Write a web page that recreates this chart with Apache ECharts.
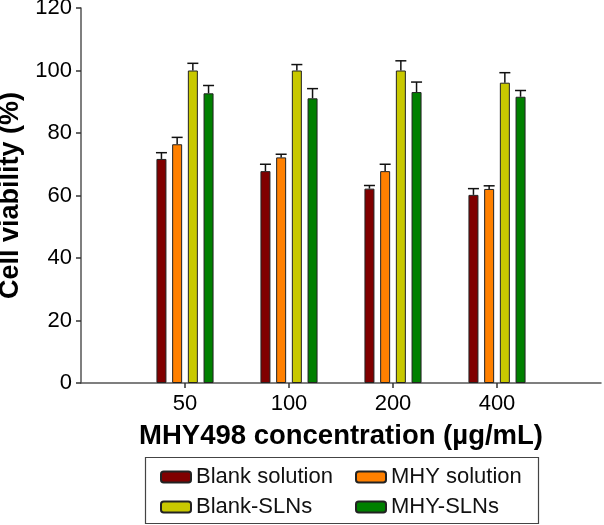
<!DOCTYPE html>
<html>
<head>
<meta charset="utf-8">
<script src="https://cdn.jsdelivr.net/npm/echarts@6/dist/echarts.min.js"></script>
<style>
html, body { margin: 0; padding: 0; background: #fff; }
#chart { width: 604px; height: 525px; }
</style>
</head>
<body>
<div id="chart"></div>
<script>
// categories (empty ends leave room on both sides of the axis)
let categories = ['', '50', '100', '200', '400', ''];
let seriesNames = ['Blank solution', 'MHY solution', 'Blank-SLNs', 'MHY-SLNs'];
let colors = ['#800000', '#ff8000', '#c8c800', '#008000'];

// mean values per concentration 50,100,200,400
let blankSolution = [71.7, 67.8, 62.2, 60.2];
let mhySolution = [76.4, 72.2, 67.8, 62.1];
let blankSLNs = [100, 100, 100, 96.1];
let mhySLNs = [92.7, 91.1, 93.1, 91.6];

// upper error (sd)
let blankSolutionSd = [2.0, 2.2, 1.0, 2.0];
let mhySolutionSd = [2.2, 1.0, 2.2, 1.0];
let blankSLNsSd = [2.3, 1.9, 3.1, 3.2];
let mhySLNsSd = [2.5, 3.1, 3.2, 2.0];

let yTicks = [0, 20, 40, 60, 80, 100, 120];

let means = [blankSolution, mhySolution, blankSLNs, mhySLNs];
let sds = [blankSolutionSd, mhySolutionSd, blankSLNsSd, mhySLNsSd];

let font = 'Liberation Sans, Arial, sans-serif';
let barW = 10;
let pitch = 15.7;

let chart = echarts.init(document.getElementById('chart'));

let series = [];
means.forEach((vals, i) => {
    series.push({
        name: seriesNames[i],
        type: 'bar',
        barWidth: barW,
        barGap: '57%',
        itemStyle: { color: colors[i], borderColor: '#222', borderWidth: 1 },
        data: ['-'].concat(vals).concat(['-'])
    });
});
means.forEach((vals, i) => {
    let offset = (i - 1.5) * pitch;
    series.push({
        type: 'custom',
        z: 1,
        silent: true,
        renderItem: function (params, api) {
            let base = api.coord([api.value(0), api.value(1)]);
            let top = api.coord([api.value(0), api.value(2)]);
            let x = base[0] + offset;
            return {
                type: 'group',
                children: [
                    { type: 'line', shape: { x1: x, y1: base[1], x2: x, y2: top[1] },
                      style: { stroke: '#111', lineWidth: 1.5 } },
                    { type: 'line', shape: { x1: x - 5.5, y1: top[1], x2: x + 5.5, y2: top[1] },
                      style: { stroke: '#111', lineWidth: 1.5 } }
                ]
            };
        },
        data: vals.map((v, k) => [k + 1, v, v + sds[i][k]])
    });
});

// one legend per item so the two columns line up
let legendPos = [[160, 466], [355, 466], [160, 496], [355, 496]];
let legends = seriesNames.map((name, i) => ({
    left: legendPos[i][0], top: legendPos[i][1],
    padding: 0,
    itemWidth: 30, itemHeight: 11,
    data: [name],
    textStyle: { fontSize: 22, color: '#111', fontFamily: font }
}));

let option = {
    animation: false,
    textStyle: { fontFamily: font },
    grid: { left: 81, right: 3, top: 8, bottom: 142, containLabel: false, outerBoundsMode: 'none' },
    legend: legends,
    graphic: [{
        type: 'rect',
        shape: { x: 145.5, y: 457.5, width: 393, height: 66 },
        style: { fill: 'none', stroke: '#444', lineWidth: 1.2 }
    }],
    xAxis: {
        type: 'category',
        boundaryGap: false,
        data: categories,
        name: 'MHY498 concentration (µg/mL)',
        nameLocation: 'middle',
        nameGap: 39,
        nameTextStyle: { fontSize: 27.5, fontWeight: 'bold', color: '#000', fontFamily: font },
        axisLine: { lineStyle: { color: '#555', width: 1.5 } },
        axisTick: {
            length: 5,
            interval: function (index, value) { return value !== ''; },
            lineStyle: { color: '#333', width: 1.5 }
        },
        axisLabel: { fontSize: 22, color: '#000', margin: 10, interval: 0, fontFamily: font },
        splitLine: { show: false }
    },
    yAxis: {
        type: 'value',
        min: yTicks[0],
        max: yTicks[yTicks.length - 1],
        interval: 20,
        name: 'Cell viability (%)',
        nameLocation: 'middle',
        nameRotate: 90,
        nameGap: 50,
        nameTextStyle: { fontSize: 27, fontWeight: 'bold', color: '#000', fontFamily: font },
        axisLine: { show: true, lineStyle: { color: '#555', width: 1.5 } },
        axisTick: { show: true, length: 5, lineStyle: { color: '#333', width: 1.5 } },
        axisLabel: { fontSize: 22, color: '#000', margin: 9, fontFamily: font },
        splitLine: { show: false }
    },
    series: series
};

chart.setOption(option);
</script>
</body>
</html>
